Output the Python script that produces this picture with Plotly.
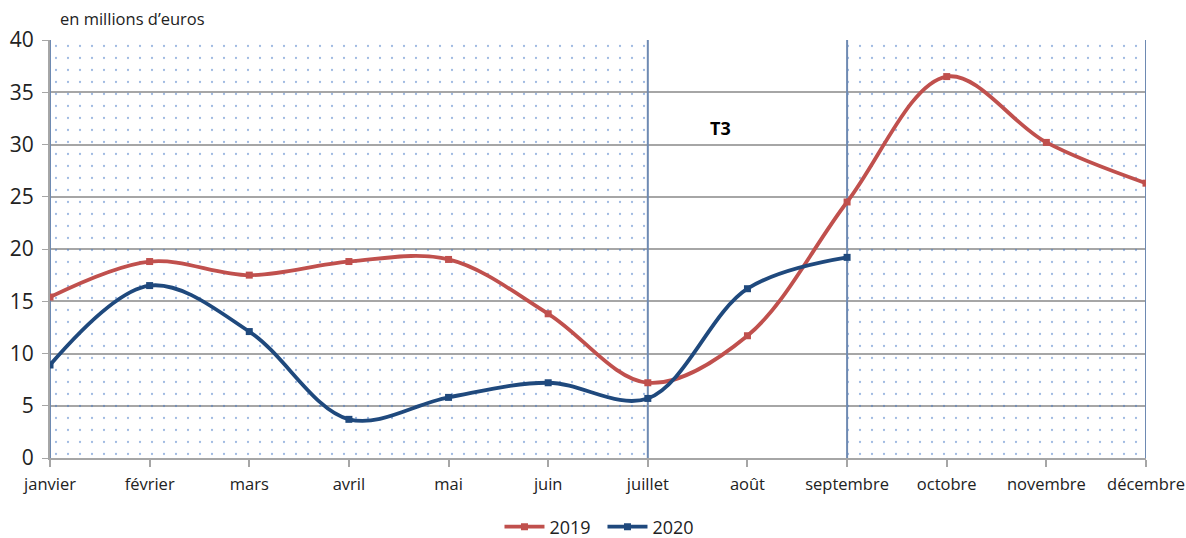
import plotly.graph_objects as go

months = ["janvier", "février", "mars", "avril", "mai", "juin", "juillet",
          "août", "septembre", "octobre", "novembre", "décembre"]
values_2019 = [15.4, 18.8, 17.5, 18.8, 19.0, 13.8, 7.2, 11.7, 24.5, 36.5, 30.2, 26.3]
values_2020 = [8.9, 16.5, 12.1, 3.7, 5.8, 7.2, 5.7, 16.2, 19.2]
y_ticks = [0, 5, 10, 15, 20, 25, 30, 35, 40]
shaded_periods = [("janvier", "juillet"), ("septembre", "décembre")]
quarter_label = "T3"
unit_label = "en millions d’euros"

FONT = "Open Sans"
BLUE_EDGE = "#6E8AB2"
GRID = "#A6A6A6"

fig = go.Figure()

ymin, ymax = y_ticks[0], y_ticks[-1]
for start, end in shaded_periods:
    fig.add_trace(go.Scatter(
        x=[start, end, end, start, start],
        y=[ymin, ymin, ymax, ymax, ymin],
        mode="lines", fill="toself",
        fillcolor="rgba(0,0,0,0)",
        fillpattern=dict(shape=".", size=12, solidity=0.028,
                         fgcolor="#3F74C4", bgcolor="rgba(0,0,0,0)"),
        line=dict(width=0), hoverinfo="skip", showlegend=False,
    ))
    for xv in (start, end):
        fig.add_trace(go.Scatter(
            x=[xv, xv], y=[ymin, ymax], mode="lines",
            line=dict(color=BLUE_EDGE, width=2), hoverinfo="skip", showlegend=False,
        ))

fig.add_trace(go.Scatter(
    x=months, y=values_2019, name="2019", mode="lines+markers",
    line=dict(color="#C0504D", width=3.8, shape="spline", smoothing=1),
    marker=dict(symbol="square", size=7, color="#C0504D"),
))
fig.add_trace(go.Scatter(
    x=months[:len(values_2020)], y=values_2020, name="2020", mode="lines+markers",
    line=dict(color="#1F497D", width=3.8, shape="spline", smoothing=1),
    marker=dict(symbol="square", size=7, color="#1F497D"),
))

fig.add_annotation(x=0, xref="paper", y=1, yref="paper", xanchor="left", yanchor="bottom",
                   text=unit_label, showarrow=False, yshift=8, xshift=8,
                   font=dict(family=FONT, size=16.5, color="#222"))
fig.add_annotation(x="août", y=31.6, text="<b>" + quarter_label + "</b>", showarrow=False,
                   xshift=-27, font=dict(family=FONT, size=18, color="#000"))

fig.update_layout(
    width=1186, height=538,
    margin=dict(l=50, r=40, t=40, b=80),
    paper_bgcolor="white", plot_bgcolor="white",
    font=dict(family=FONT, color="#222"),
    legend=dict(orientation="h", x=0.508, xanchor="center", xref="container",
                y=11 / 538, yanchor="middle", yref="container",
                entrywidth=48, entrywidthmode="pixels", itemwidth=40,
                font=dict(family=FONT, size=18, color="#222")),
    showlegend=True,
)
fig.update_xaxes(
    type="category", categoryorder="array", categoryarray=months,
    range=[0, len(months) - 1], showgrid=False, automargin=False,
    showline=True, linecolor=GRID, linewidth=2,
    ticks="outside", ticklen=7, tickcolor=GRID, tickwidth=1.5,
    ticklabelstandoff=3,
    tickfont=dict(family=FONT, size=16.5, color="#222"),
)
fig.update_yaxes(
    range=[ymin, ymax], tickvals=y_ticks, showgrid=True, gridcolor=GRID, gridwidth=2,
    zeroline=False, showline=True, linecolor=GRID, linewidth=2, automargin=False,
    ticks="outside", ticklen=6, tickcolor=GRID, ticklabelstandoff=4,
    tickfont=dict(family=FONT, size=21, color="#222"),
)

fig.write_html("out.html", config={"displayModeBar": False},
               post_script="document.body.style.margin='0';")
